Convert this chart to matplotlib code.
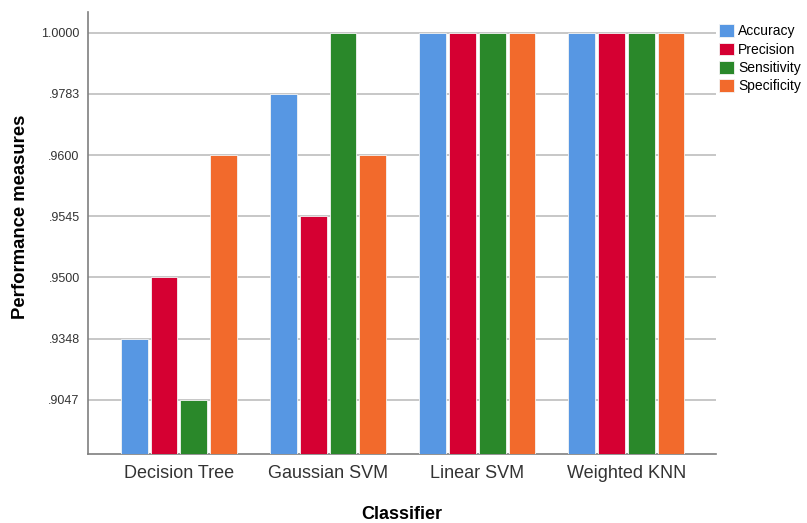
import matplotlib
matplotlib.use("Agg")
import matplotlib.pyplot as plt
import numpy as np

plt.rcParams["font.family"] = ["Liberation Sans", "DejaVu Sans"]

classifiers = ["Decision Tree", "Gaussian SVM", "Linear SVM", "Weighted KNN"]
measures = ["Accuracy", "Precision", "Sensitivity", "Specificity"]
accuracy = [0.9348, 0.9783, 1.0, 1.0]
precision = [0.9500, 0.9545, 1.0, 1.0]
sensitivity = [0.9047, 1.0, 1.0, 1.0]
specificity = [0.9600, 0.9600, 1.0, 1.0]
colors = ["#5797e3", "#d50032", "#2a882a", "#f26a2c"]

# SPSS puts the values on an ordinal scale: each distinct value gets one step
series = [accuracy, precision, sensitivity, specificity]
levels = sorted(set(v for s in series for v in s))
rank = {v: i + 1 for i, v in enumerate(levels)}
base = 0.115

def fmt(v):
    s = "%.4f" % v
    return s[1:] if s.startswith("0") else s

fig = plt.figure(figsize=(8.07, 5.23), dpi=100)
ax = fig.add_axes([0.109, 0.132, 0.778, 0.845])

x = np.arange(len(classifiers))
w = 0.2
for j, (name, vals) in enumerate(zip(measures, series)):
    h = [rank[v] - base for v in vals]
    ax.bar(x + (j - 1.5) * w, h, width=w * 0.9, bottom=base, color=colors[j],
           label=name, edgecolor="#f4f4f4", linewidth=0.6, zorder=3)

ax.set_xlim(-0.61, 3.6)
ax.set_ylim(base, 7.34)
ax.set_yticks(range(1, len(levels) + 1))
ax.set_yticklabels([fmt(v) for v in levels], fontsize=9, color="#333333")
ax.yaxis.grid(True, color="#bdbdbd", linewidth=1.2, zorder=0)
ax.set_xticks(x)
ax.set_xticklabels(classifiers, fontsize=13, color="#333333")
ax.tick_params(axis="both", length=0, pad=6)
ax.tick_params(axis="x", pad=8)

for sp in ["top", "right"]:
    ax.spines[sp].set_visible(False)
for sp in ["left", "bottom"]:
    ax.spines[sp].set_color("#7f7f7f")
    ax.spines[sp].set_linewidth(1.2)

ax.set_xlabel("Classifier", fontsize=13, fontweight="bold", labelpad=17)
ax.set_ylabel("Performance measures", fontsize=13.3, fontweight="bold")
ax.yaxis.set_label_coords(-0.094, 0.536)

leg = ax.legend(loc="upper left", bbox_to_anchor=(0.997, 0.985), frameon=False,
                fontsize=10, handlelength=1.05, handleheight=1.05,
                handletextpad=0.3, labelspacing=0.3, borderaxespad=0)

fig.savefig("out.png", dpi=100)
